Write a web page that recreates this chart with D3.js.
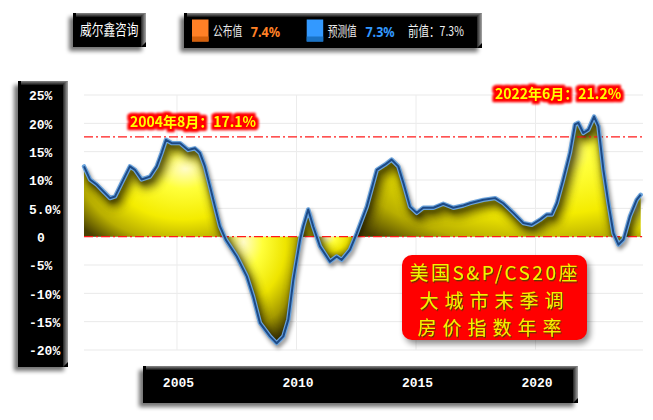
<!DOCTYPE html>
<html><head><meta charset="utf-8">
<script src="https://cdn.jsdelivr.net/npm/d3@7"></script>
<style>html,body{margin:0;padding:0;background:#fff;}svg{display:block;}</style>
</head><body>
<svg id="c" width="653" height="420"></svg>
<script>
// ---------- data ----------
const dates = [2001.11,2001.36,2001.64,2001.92,2002.20,2002.41,2002.69,2003.03,2003.24,2003.52,2003.87,2004.15,2004.36,2004.54,2004.78,2005.13,2005.47,2005.75,2005.96,2006.17,2006.38,2006.59,2006.80,2007.05,2007.50,2007.92,2008.19,2008.47,2008.89,2009.17,2009.45,2009.66,2009.87,2010.15,2010.28,2010.49,2010.70,2010.98,2011.40,2011.68,2011.89,2012.24,2012.52,2012.94,2013.36,2013.70,2013.98,2014.26,2014.47,2014.75,2015.03,2015.30,2015.73,2016.14,2016.56,2016.98,2017.26,2017.82,2018.31,2018.65,2019.07,2019.49,2019.84,2020.19,2020.47,2020.68,2020.89,2021.16,2021.44,2021.65,2021.79,2022.00,2022.21,2022.45,2022.63,2022.84,2023.05,2023.26,2023.47,2023.68,2023.95,2024.23,2024.40];
const values = [12.4,10.1,9.2,8.0,6.8,7.1,9.5,12.4,11.8,10.1,10.6,12.4,14.8,17.1,16.5,16.5,15.3,15.6,14.8,12.4,8.9,5.3,1.8,-0.6,-3.5,-7.0,-10.6,-15.2,-17.6,-18.8,-17.6,-14.6,-7.6,-0.5,1.8,4.8,1.8,-1.7,-4.4,-3.5,-4.1,-2.3,0.6,5.3,11.8,12.7,13.6,12.4,9.5,5.3,4.2,5.1,5.1,5.8,5.1,5.5,5.9,6.5,6.8,5.9,4.2,2.4,2.1,3.0,3.9,3.9,5.9,10.1,14.8,19.8,20.1,18.3,18.9,21.2,19.5,11.8,5.9,0.6,-1.4,-0.5,3.6,6.5,7.4];
const yTickValues = [25,20,15,10,5,0,-5,-10,-15,-20];
const yTickLabels = ["25%","20%","15%","10%","5.0%","0","-5%","-10%","-15%","-20%"];
const xTickYears = [2005,2010,2015,2020];
const xTickLabels = ["2005","2010","2015","2020"];
const refLineValues = [17.6, 0];
const annotationLabels = ["2004年8月：17.1%","2022年6月：21.2%"];
const annotationDates = [2004.54, 2022.45];
const annotationValues = [17.1, 21.2];
const titleText = "威尔鑫咨询";
const legendNames = ["公布值","预测值"];
const legendValues = ["7.4%","7.3%"];
const previousText = "前值：7.3%";
const boxLines = ["美国S&P/CS20座","大城市末季调","房价指数年率"];

// ---------- layout ----------
const svg = d3.select("#c");
const W = 653, H = 420;
const plot = {left:84, right:640.7, top:95, bottom:350};
const x = d3.scaleLinear().domain([d3.min(dates), d3.max(dates)]).range([plot.left, plot.right]);
const y = d3.scaleLinear().domain([-20, 25]).range([plot.bottom, plot.top]);

svg.append("rect").attr("width",W).attr("height",H).attr("fill","#fff");
const defs = svg.append("defs");

function blurFilter(id, sd){
  defs.append("filter").attr("id",id).attr("x","-30%").attr("y","-30%").attr("width","160%").attr("height","160%")
    .append("feGaussianBlur").attr("stdDeviation",sd);
}
blurFilter("blur1",1);
blurFilter("blur2",2);
blurFilter("blur3",3);
blurFilter("blur4",4);
blurFilter("blur06",0.6);

const fs = defs.append("filter").attr("id","txtShadow").attr("x","-10%").attr("y","-30%").attr("width","120%").attr("height","160%");
fs.append("feDropShadow").attr("dx",1).attr("dy",1.3).attr("stdDeviation",0.4).attr("flood-color","#5a3a00").attr("flood-opacity",1);

const fg = defs.append("filter").attr("id","redGlow").attr("x","-10%").attr("y","-40%").attr("width","120%").attr("height","180%");
fg.append("feMorphology").attr("in","SourceAlpha").attr("operator","dilate").attr("radius",2.2).attr("result","dil");
fg.append("feGaussianBlur").attr("in","dil").attr("stdDeviation",0.9).attr("result","dilb");
fg.append("feFlood").attr("flood-color","#ff0000").attr("result","red");
fg.append("feComposite").attr("in","red").attr("in2","dilb").attr("operator","in").attr("result","glow");
const fgm = fg.append("feMerge");
fgm.append("feMergeNode").attr("in","glow");
fgm.append("feMergeNode").attr("in","SourceGraphic");

const gPos = defs.append("radialGradient").attr("id","gPos").attr("cx",0.7).attr("cy",0.35).attr("r",0.9).attr("fx",0.72).attr("fy",0.3);
[[0,"#fffbc8"],[0.22,"#ffff3a"],[0.55,"#f4ec00"],[0.8,"#b8ae00"],[1,"#4a4200"]].forEach(s=>gPos.append("stop").attr("offset",s[0]).attr("stop-color",s[1]));
const gNeg = defs.append("radialGradient").attr("id","gNeg").attr("cx",0.25).attr("cy",0.05).attr("r",1.0).attr("fx",0.25).attr("fy",0.05);
[[0,"#fffbc8"],[0.25,"#ffff3a"],[0.55,"#eee500"],[0.8,"#a69b00"],[1,"#3a3300"]].forEach(s=>gNeg.append("stop").attr("offset",s[0]).attr("stop-color",s[1]));
const bevTop = defs.append("linearGradient").attr("id","bevTop").attr("x1",0).attr("y1",0).attr("x2",0).attr("y2",1);
bevTop.append("stop").attr("offset",0).attr("stop-color","#8a8a8a");
bevTop.append("stop").attr("offset",1).attr("stop-color","#111");
const bevRight = defs.append("linearGradient").attr("id","bevRight").attr("x1",0).attr("y1",0).attr("x2",1).attr("y2",0);
bevRight.append("stop").attr("offset",0).attr("stop-color","#222");
bevRight.append("stop").attr("offset",1).attr("stop-color","#a8a8a8");

// ---------- bevelled black panels ----------
function panel(x0,y0,x1,y1){
  const g = svg.append("g");
  g.append("rect").attr("x",x0-4).attr("y",y0+4).attr("width",x1-x0).attr("height",y1-y0)
    .attr("fill","#000").attr("opacity",0.55).attr("filter","url(#blur2)");
  g.append("rect").attr("x",x0).attr("y",y0).attr("width",x1-x0).attr("height",y1-y0).attr("fill","#000");
  g.append("rect").attr("x",x0+3).attr("y",y0).attr("width",x1-x0-3).attr("height",4).attr("fill","url(#bevTop)");
  g.append("path").attr("d",`M${x1-5},${y0+3}L${x1},${y0}L${x1},${y1-5}L${x1-5},${y1}Z`).attr("fill","url(#bevRight)");
  return g;
}

// ---------- gridlines ----------
const grid = svg.append("g");
grid.selectAll("line.h").data(yTickValues).join("line")
  .attr("x1",plot.left).attr("x2",643).attr("y1",d=>y(d)).attr("y2",d=>y(d))
  .attr("stroke","#e9e9e9").attr("stroke-width",1);
grid.selectAll("line.v").data(xTickYears).join("line")
  .attr("x1",d=>x(d)).attr("x2",d=>x(d)).attr("y1",plot.top).attr("y2",plot.bottom)
  .attr("stroke","#ececec").attr("stroke-width",1);

// ---------- areas split by sign ----------
const pts = dates.map((d,i)=>({t:d, v:values[i]}));
const segs = []; let cur = [pts[0]];
for (let i=1;i<pts.length;i++){
  const a = pts[i-1], b = pts[i];
  if ((a.v>=0) !== (b.v>=0)) {
    const f = a.v/(a.v-b.v);
    const z = {t:a.t + f*(b.t-a.t), v:0};
    cur.push(z); segs.push(cur); cur=[z];
  }
  cur.push(b);
}
segs.push(cur);
const area = d3.area().x(d=>x(d.t)).y0(y(0)).y1(d=>y(d.v));
const clip = defs.append("clipPath").attr("id","areaClip");
clip.append("path").datum(pts).attr("d",area);
svg.append("g").selectAll("path").data(segs).join("path")
  .attr("d",area)
  .attr("fill",s=>d3.mean(s,d=>d.v)>=0 ? "url(#gPos)" : "url(#gNeg)");

const line = d3.line().x(d=>x(d.t)).y(d=>y(d.v));
svg.append("g").attr("clip-path","url(#areaClip)")
  .append("path").datum(pts).attr("d",line).attr("transform","translate(3,5)")
  .attr("fill","none").attr("stroke","#3d3600").attr("stroke-width",9).attr("opacity",0.75)
  .attr("stroke-linejoin","round").attr("filter","url(#blur4)");

// ---------- reference dash-dot lines ----------
svg.append("g").selectAll("line").data(refLineValues).join("line")
  .attr("x1",plot.left).attr("x2",644).attr("y1",d=>y(d)).attr("y2",d=>y(d))
  .attr("stroke","#ff1a1a").attr("stroke-width",1.2).attr("stroke-dasharray","9,3,2,3");

// ---------- line ----------
svg.append("path").datum(pts).attr("d",line).attr("transform","translate(1.5,3)")
  .attr("fill","none").attr("stroke","#000").attr("stroke-width",4).attr("opacity",0.5)
  .attr("stroke-linejoin","round").attr("filter","url(#blur2)");
svg.append("path").datum(pts).attr("d",line)
  .attr("fill","none").attr("stroke","#6aa3dc").attr("stroke-width",4.4).attr("stroke-linejoin","round").attr("stroke-linecap","round");
svg.append("path").datum(pts).attr("d",line)
  .attr("fill","none").attr("stroke","#1d4a86").attr("stroke-width",2).attr("stroke-linejoin","round");

// ---------- annotations ----------
const annOffsets = [[27,-18],[-36,-23]];
svg.append("g").selectAll("text").data(annotationLabels).join("text")
  .attr("transform",(d,i)=>`translate(${x(annotationDates[i])+annOffsets[i][0]},${y(annotationValues[i])+annOffsets[i][1]})`)
  .text(d=>d).attr("text-anchor","middle").attr("dy","0.36em")
  .attr("font-family","'Noto Sans CJK SC',sans-serif").attr("font-weight","bold").attr("font-size",14)
  .attr("fill","#ffff00").attr("stroke","#ff0000").attr("stroke-width",2.5).attr("stroke-linejoin","round")
  .attr("paint-order","stroke").attr("filter","url(#redGlow)");

// ---------- red info box ----------
const box = {x0:402, y0:255, x1:587, y1:340};
svg.append("rect").attr("x",box.x0+3).attr("y",box.y0+4).attr("width",box.x1-box.x0).attr("height",box.y1-box.y0)
  .attr("rx",10).attr("fill","#000").attr("opacity",0.45).attr("filter","url(#blur3)");
svg.append("rect").attr("x",box.x0).attr("y",box.y0).attr("width",box.x1-box.x0).attr("height",box.y1-box.y0)
  .attr("rx",10).attr("fill","#ff0000").attr("filter","url(#blur06)");
const boxLineY = [273.5, 301, 328.5];
const boxLineSpacing = [2.5, 6, 6];
const boxLineCenter = [493.5, 491.5, 489.5];
svg.append("g").selectAll("text").data(boxLines).join("text")
  .text(d=>d).attr("x",(d,i)=>boxLineCenter[i]+boxLineSpacing[i]/2).attr("y",(d,i)=>boxLineY[i]).attr("dy","0.36em")
  .attr("text-anchor","middle").attr("font-family","'Noto Sans CJK SC',sans-serif").attr("font-size",19)
  .attr("letter-spacing",(d,i)=>boxLineSpacing[i]).attr("fill","#f4f200").attr("filter","url(#txtShadow)");

// ---------- y axis panel ----------
panel(18,81,68,367);
const yAxis = d3.axisLeft(y).tickValues(yTickValues).tickFormat((d,i)=>yTickLabels[i]).tickSize(0);
const ya = svg.append("g").call(yAxis);
ya.select(".domain").remove();
ya.selectAll("text").attr("x",d=>d===0?41:29).attr("text-anchor",d=>d===0?"middle":"start")
  .attr("dy","0.36em").attr("fill","#fff").attr("font-family","'Liberation Mono',monospace")
  .attr("font-weight","bold").attr("font-size",13);

// ---------- x axis panel ----------
panel(143,366,578,403);
const xAxis = d3.axisBottom(x).tickValues(xTickYears).tickFormat((d,i)=>xTickLabels[i]).tickSize(0);
const xa = svg.append("g").attr("transform","translate(1,382)").call(xAxis);
xa.select(".domain").remove();
xa.selectAll("text").attr("y",0).attr("dy","0.36em").attr("fill","#fff")
  .attr("font-family","'Liberation Mono',monospace").attr("font-weight","bold").attr("font-size",13);

// ---------- condensed text helper ----------
function condensed(str, x0, y0, size, sx, fill, weight, family){
  return svg.append("text").text(str)
    .attr("transform",`translate(${x0},${y0}) scale(${sx},1)`)
    .attr("dy","0.36em").attr("fill",fill).attr("font-size",size)
    .attr("font-weight",weight||"normal")
    .attr("font-family",family||"'Noto Sans CJK SC',sans-serif");
}

// ---------- title panel ----------
panel(73,13,146,47);
condensed(titleText, 80, 30, 15, 0.78, "#fff");

// ---------- legend panel ----------
panel(184,13,482,48);
const legColors = ["#ff8026","#3399ff"];
const legDark = ["#d4600c","#1a72c4"];
const legX = [192, 306.7];
legendNames.forEach((name,i)=>{
  svg.append("rect").attr("x",legX[i]).attr("y",19.5).attr("width",16.5).attr("height",22).attr("fill",legColors[i]);
  svg.append("rect").attr("x",legX[i]).attr("y",36.5).attr("width",16.5).attr("height",5).attr("fill",legDark[i]);
  condensed(name, legX[i]+21, 31, 13.5, 0.72, "#e8e8e8");
  condensed(legendValues[i], legX[i]+58.7, 31.5, 14, 0.9, legColors[i], "bold", "'Noto Sans',sans-serif");
});
condensed(previousText, 408, 31, 13.5, 0.78, "#f0f0f0");
</script>
</body></html>
